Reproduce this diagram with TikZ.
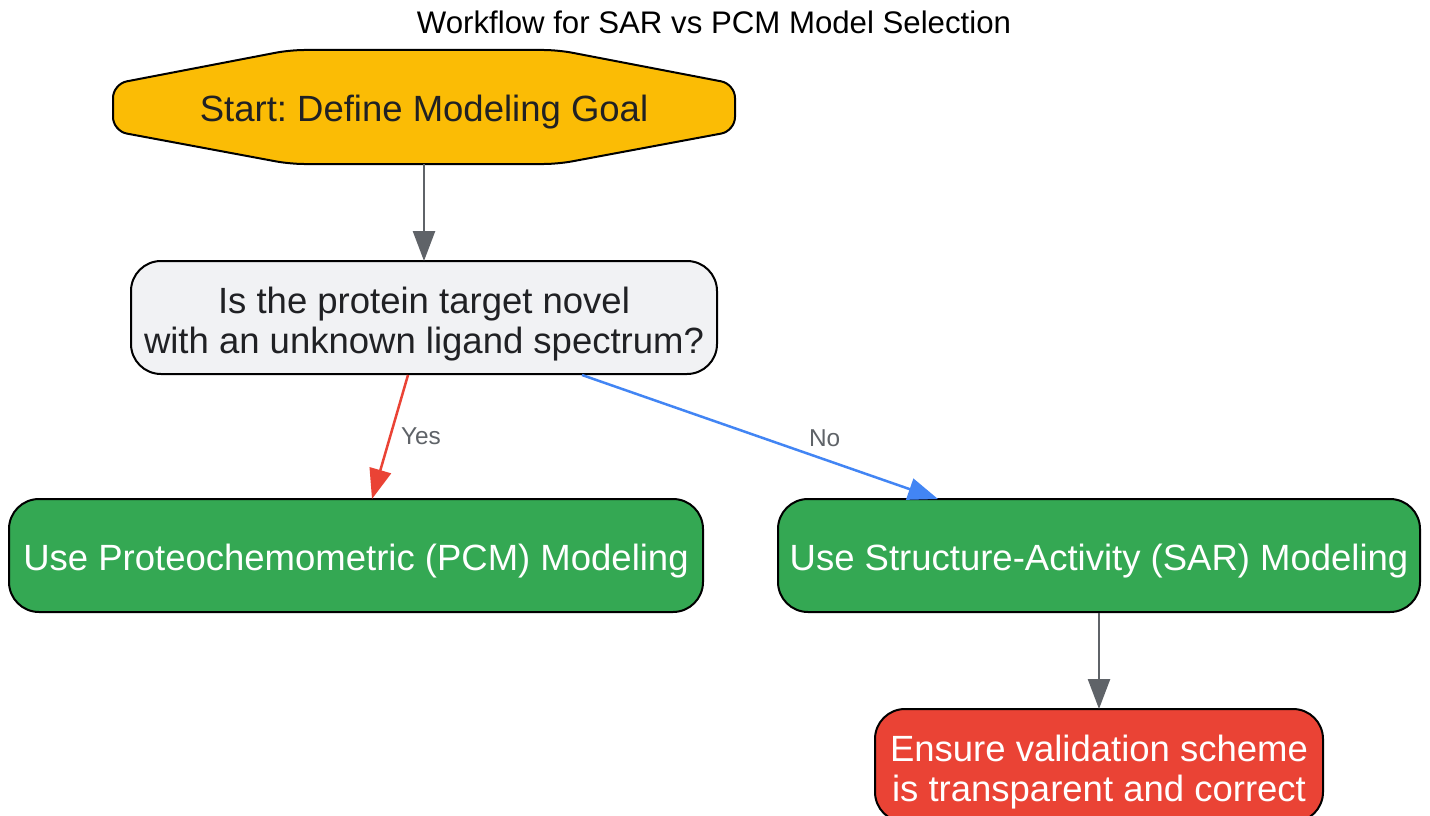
\documentclass[tikz,border=0pt]{standalone}
\usepackage{fontspec}
\setmainfont{Liberation Sans}
\frenchspacing
\usetikzlibrary{arrows.meta,positioning}
\definecolor{gyellow}{HTML}{FBBC05}
\definecolor{ggreen}{HTML}{34A853}
\definecolor{gred}{HTML}{EA4335}
\definecolor{gblue}{HTML}{4285F4}
\definecolor{ggray}{HTML}{5F6368}
\definecolor{qfill}{HTML}{F1F2F4}
\definecolor{dtext}{HTML}{202124}
\tikzset{
  box/.style={draw=black, line width=2pt, rounded corners=30pt, inner sep=0pt,
    minimum height=113pt, align=center, font=\fontsize{36.5}{40}\selectfont},
  oneline/.style={text height=29pt, text depth=0pt},
  twoline/.style={text height=71pt, text depth=0pt},
  startbox/.style={inner sep=0pt, minimum width=622pt, minimum height=114pt,
    text=dtext, font=\fontsize{36.5}{40}\selectfont, oneline},
  qbox/.style={box, fill=qfill, text=dtext, twoline},
  gbox/.style={box, fill=ggreen, text=white, oneline},
  rbox/.style={box, fill=gred, text=white, twoline},
  conn/.style={line width=2.5pt, -{Triangle[length=30pt,width=22pt]}},
  elabel/.style={text=ggray, font=\fontsize{24.4}{28}\selectfont},
}
\begin{document}
\begin{tikzpicture}[x=1pt,y=-1pt]
\useasboundingbox (0,0) rectangle (1430,816);
\clip (0,0) rectangle (1430,816);
\fill[white] (0,0) rectangle (1430,816);
\node[font=\fontsize{31.2}{36}\selectfont, text=black] (title) at (714,22) {Workflow for SAR vs PCM Model Selection};
% start shape
\draw[line width=2pt, fill=gyellow, rounded corners=14pt]
  (113,84) -- (290,50) -- (558,50) -- (735,84) -- (735,131) -- (558,164) -- (290,164) -- (113,131) -- cycle;
\node[startbox] (start) at (424,107) {Start: Define Modeling Goal};
\node[qbox, minimum width=586pt] (q) at (424,317.5) {Is the protein target novel\\with an unknown ligand spectrum?};
\node[gbox, minimum width=694pt] (pcm) at (356,555.5) {Use Proteochemometric (PCM) Modeling};
\node[gbox, minimum width=642pt] (sar) at (1099,555.5) {Use Structure-Activity (SAR) Modeling};
\node[rbox, minimum width=448pt] (val) at (1099,765.5) {Ensure validation scheme\\is transparent and correct};
% connectors
\draw[conn, ggray] (start.south) -- ([yshift=-1pt]q.north);
\draw[conn, gred] ([xshift=-16pt]q.south) -- node[elabel, pos=0.5, xshift=31pt, yshift=1pt] {Yes} ([xshift=16pt,yshift=-1pt]pcm.north);
\draw[conn, gblue] ([xshift=158pt]q.south) -- node[elabel, pos=0.6, xshift=29pt, yshift=11pt] {No} ([xshift=-161pt,yshift=-1pt]sar.north);
\draw[conn, ggray] (sar.south) -- ([yshift=-1pt]val.north);
\end{tikzpicture}
\end{document}
